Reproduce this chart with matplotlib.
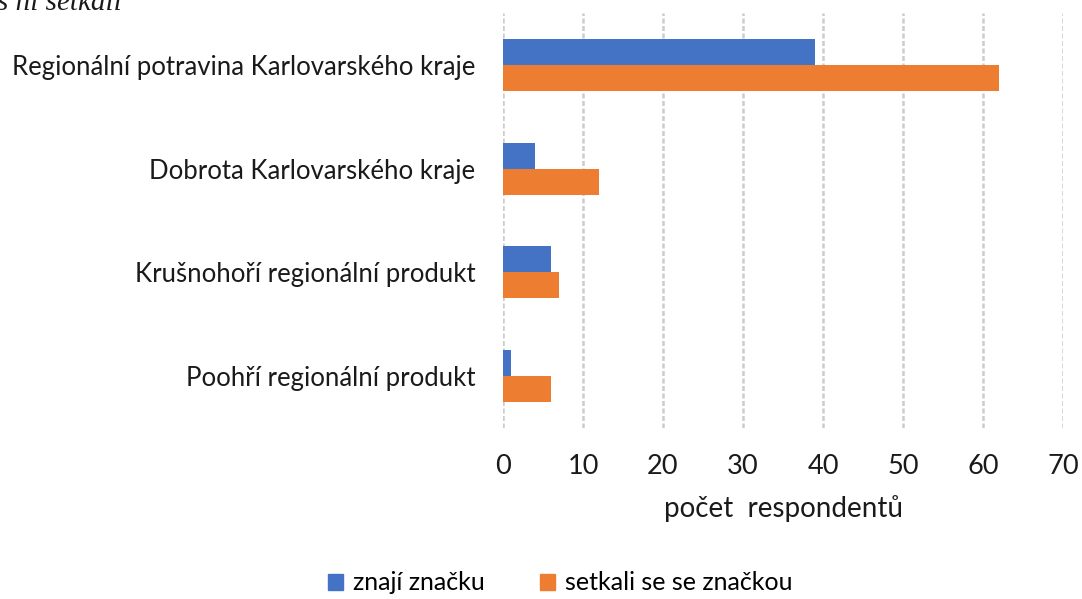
import matplotlib
matplotlib.use("Agg")
import matplotlib.pyplot as plt
import numpy as np
from matplotlib.patches import Patch

categories = ["Regionální potravina Karlovarského kraje",
              "Dobrota Karlovarského kraje",
              "Krušnohoří regionální produkt",
              "Poohří regionální produkt"]
znaji = [39, 4, 6, 1]
setkali = [62, 12, 7, 6]
xticks = [0, 10, 20, 30, 40, 50, 60, 70]

BLUE = "#4472C4"
ORANGE = "#ED7D31"
FONT = "Lato"
TXT = "#1a1a1a"

fig = plt.figure(figsize=(10.82, 5.99), dpi=100)
W, H = 1082, 599
ax = fig.add_axes([503 / W, 1 - 428 / H, (1063 - 503) / W, (428 - 13) / H])

y = np.arange(len(categories))
h = 0.25
ax.barh(y - h / 2, znaji, height=h, color=BLUE, zorder=3)
ax.barh(y + h / 2, setkali, height=h, color=ORANGE, zorder=3)

ax.set_xlim(0, 70)
ax.set_ylim(len(categories) - 0.5, -0.5)
ax.set_xticks(xticks)
ax.set_xticklabels([str(t) for t in xticks], fontsize=19.5, family=FONT, color=TXT)
ax.set_yticks(y)
ax.set_yticklabels(categories, fontsize=18.5, family=FONT, color=TXT)
ax.tick_params(axis="both", length=0)
ax.tick_params(axis="x", pad=19)
ax.tick_params(axis="y", pad=20)
for s in ax.spines.values():
    s.set_visible(False)
ax.grid(axis="x", color="#cccccc", linestyle=(0, (2, 1)), linewidth=1.8, zorder=0)
ax.set_axisbelow(True)

ax.set_xlabel("počet  respondentů", fontsize=20, family=FONT, color=TXT, labelpad=11)

handles = [Patch(color=BLUE, label="znají značku"), Patch(color=ORANGE, label="setkali se se značkou")]
fig.legend(handles=handles, loc="center", bbox_to_anchor=(560 / W, 1 - 583 / H), ncol=2,
           frameon=False, prop={"family": FONT, "size": 18}, handlelength=0.6, handleheight=0.6,
           columnspacing=2.2, handletextpad=0.4)

fig.text(-3 / W, 1 - 10 / H, "s ni setkali", family="Liberation Serif", style="italic",
         fontsize=21, va="baseline", ha="left", color=TXT)

fig.savefig("out.png", dpi=100, facecolor="white")
